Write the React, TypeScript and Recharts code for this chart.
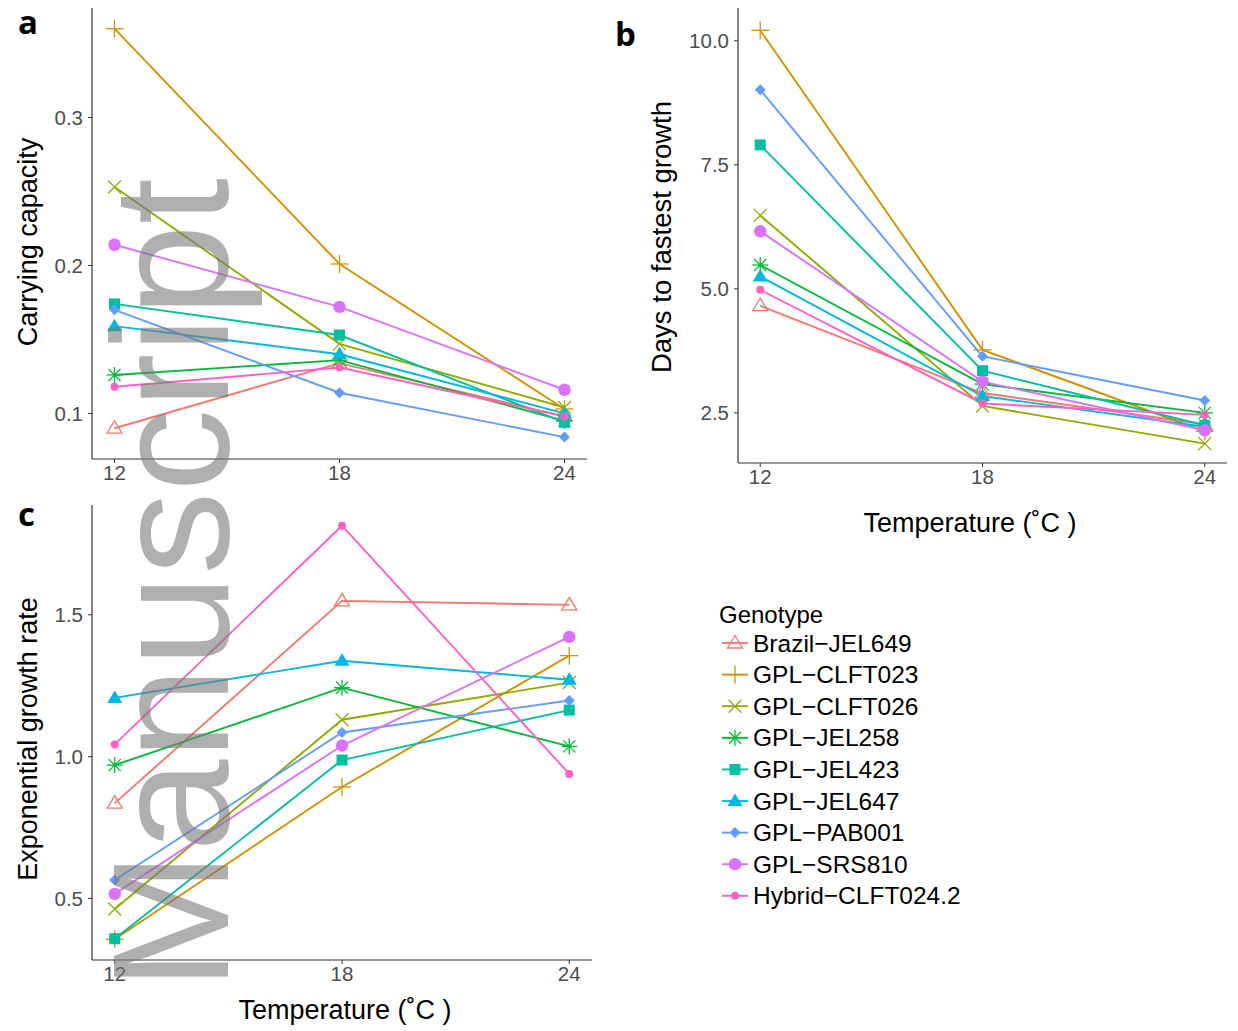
import React from 'react';
import { LineChart, Line, XAxis, YAxis } from 'recharts';

const temperatures = [12, 18, 24];
const genotypes = [
  'Brazil\u2212JEL649',
  'GPL\u2212CLFT023',
  'GPL\u2212CLFT026',
  'GPL\u2212JEL258',
  'GPL\u2212JEL423',
  'GPL\u2212JEL647',
  'GPL\u2212PAB001',
  'GPL\u2212SRS810',
  'Hybrid\u2212CLFT024.2',
];
const colors = ['#F8766D', '#D39200', '#93AA00', '#00BA38', '#00C19F', '#00B9E3', '#619CFF', '#DB72FB', '#FF61C3'];
const shapes = ['openTriangle', 'plus', 'cross', 'asterisk', 'square', 'triangle', 'diamond', 'circle', 'smallCircle'];

// one row per genotype, values at 12, 18, 24 C
const carryingCapacity = [
  [0.09, 0.134, 0.098],
  [0.36, 0.201, 0.103],
  [0.253, 0.147, 0.104],
  [0.126, 0.136, 0.095],
  [0.174, 0.153, 0.094],
  [0.159, 0.14, 0.1],
  [0.17, 0.114, 0.084],
  [0.214, 0.172, 0.116],
  [0.118, 0.131, 0.098],
];
const daysToFastestGrowth = [
  [4.66, 2.9, 2.27],
  [10.21, 3.77, 2.13],
  [6.48, 2.64, 1.88],
  [5.48, 3.08, 2.5],
  [7.9, 3.35, 2.25],
  [5.25, 2.84, 2.22],
  [9.01, 3.64, 2.75],
  [6.16, 3.13, 2.15],
  [4.98, 2.69, 2.46],
];
const exponentialGrowthRate = [
  [0.836, 1.549, 1.535],
  [0.356, 0.893, 1.356],
  [0.463, 1.13, 1.261],
  [0.97, 1.243, 1.036],
  [0.358, 0.988, 1.164],
  [1.207, 1.338, 1.271],
  [0.565, 1.085, 1.198],
  [0.516, 1.039, 1.422],
  [1.043, 1.814, 0.939],
];

const carryingTicks = [0.1, 0.2, 0.3];
const daysTicks = [2.5, 5.0, 7.5, 10.0];
const rateTicks = [0.5, 1.0, 1.5];

const FONT = '"Liberation Sans", Arial, Helvetica, sans-serif';
const AXIS = '#333333';
const TICK_TEXT = '#4D4D4D';

const toRows = (values: number[][]) =>
  temperatures.map((t, ti) => {
    const row: any = { temp: t };
    values.forEach((v, gi) => {
      row[`g${gi}`] = v[ti];
    });
    return row;
  });

const Marker = ({ shape, color, cx, cy }: { shape: string; color: string; cx: number; cy: number }) => {
  if (cx == null || cy == null) return null;
  switch (shape) {
    case 'openTriangle':
      return (
        <polygon
          points={`${cx},${cy - 7.5} ${cx - 7.5},${cy + 5} ${cx + 7.5},${cy + 5}`}
          fill="none"
          stroke={color}
          strokeWidth={1.3}
        />
      );
    case 'plus':
      return (
        <g stroke={color} strokeWidth={1.3}>
          <line x1={cx - 9} y1={cy} x2={cx + 9} y2={cy} />
          <line x1={cx} y1={cy - 9} x2={cx} y2={cy + 9} />
        </g>
      );
    case 'cross':
      return (
        <g stroke={color} strokeWidth={1.3}>
          <line x1={cx - 6.5} y1={cy - 6.5} x2={cx + 6.5} y2={cy + 6.5} />
          <line x1={cx - 6.5} y1={cy + 6.5} x2={cx + 6.5} y2={cy - 6.5} />
        </g>
      );
    case 'asterisk':
      return (
        <g stroke={color} strokeWidth={1.3}>
          <line x1={cx - 8} y1={cy} x2={cx + 8} y2={cy} />
          <line x1={cx} y1={cy - 8} x2={cx} y2={cy + 8} />
          <line x1={cx - 6} y1={cy - 6} x2={cx + 6} y2={cy + 6} />
          <line x1={cx - 6} y1={cy + 6} x2={cx + 6} y2={cy - 6} />
        </g>
      );
    case 'square':
      return <rect x={cx - 5.5} y={cy - 5.5} width={11} height={11} fill={color} />;
    case 'triangle':
      return <polygon points={`${cx},${cy - 7.5} ${cx - 7.5},${cy + 5} ${cx + 7.5},${cy + 5}`} fill={color} />;
    case 'diamond':
      return <polygon points={`${cx},${cy - 5.5} ${cx + 5.5},${cy} ${cx},${cy + 5.5} ${cx - 5.5},${cy}`} fill={color} />;
    case 'circle':
      return <circle cx={cx} cy={cy} r={6.2} fill={color} />;
    default:
      return <circle cx={cx} cy={cy} r={4} fill={color} />;
  }
};

interface PanelProps {
  values: number[][];
  domain: [number, number];
  ticks: number[];
  width: number;
  height: number;
  yAxisWidth: number;
  margin: { top: number; right: number; bottom: number; left: number };
}

const Panel = ({ values, domain, ticks, width, height, yAxisWidth, margin }: PanelProps) => (
  <LineChart width={width} height={height} data={toRows(values)} margin={margin}>
    <XAxis
      dataKey="temp"
      type="number"
      domain={[11.4, 24.6]}
      ticks={temperatures}
      allowDataOverflow
      height={30}
      tickSize={4}
      tickMargin={2}
      axisLine={{ stroke: AXIS, strokeWidth: 1.2 }}
      tickLine={{ stroke: AXIS }}
      tick={{ fill: TICK_TEXT, fontSize: 20.5, fontFamily: FONT }}
    />
    <YAxis
      type="number"
      domain={domain}
      ticks={ticks}
      allowDataOverflow
      width={yAxisWidth}
      tickSize={4}
      tickMargin={5}
      tickFormatter={(v: number) => v.toFixed(1)}
      axisLine={{ stroke: AXIS, strokeWidth: 1.2 }}
      tickLine={{ stroke: AXIS }}
      tick={{ fill: TICK_TEXT, fontSize: 20.5, fontFamily: FONT }}
    />
    {genotypes.map((g, i) => (
      <Line
        key={g}
        dataKey={`g${i}`}
        name={g}
        type="linear"
        stroke={colors[i]}
        strokeWidth={1.9}
        isAnimationActive={false}
        dot={(p: any) => <Marker key={`${g}-${p.index}`} shape={shapes[i]} color={colors[i]} cx={p.cx} cy={p.cy} />}
        activeDot={false}
      />
    ))}
  </LineChart>
);

const Legend = () => (
  <svg width={320} height={330} style={{ position: 'absolute', left: 700, top: 595 }}>
    <text x={19} y={19 + 8.5} fontSize={24} fontFamily={FONT} fill="#000">
      Genotype
    </text>
    {genotypes.map((g, i) => {
      const cy = 48 + i * 31.6;
      return (
        <g key={g}>
          <line x1={22} x2={48} y1={cy} y2={cy} stroke={colors[i]} strokeWidth={1.9} />
          <Marker shape={shapes[i]} color={colors[i]} cx={35} cy={cy} />
          <text x={53} y={cy + 8.5} fontSize={24.5} fontFamily={FONT} fill="#000">
            {g}
          </text>
        </g>
      );
    })}
  </svg>
);

export default function App() {
  return (
    <div style={{ position: 'absolute', left: 0, top: 0, width: 1238, height: 1031, background: '#fff' }}>
      <div style={{ position: 'absolute', left: 0, top: 0 }}>
        <Panel
          values={carryingCapacity}
          domain={[0.0692, 0.374]}
          ticks={carryingTicks}
          width={600}
          height={500}
          yAxisWidth={92}
          margin={{ top: 8, right: 13, bottom: 11, left: 0 }}
        />
      </div>
      <div style={{ position: 'absolute', left: 600, top: 0 }}>
        <Panel
          values={daysToFastestGrowth}
          domain={[1.49, 10.66]}
          ticks={daysTicks}
          width={638}
          height={500}
          yAxisWidth={138}
          margin={{ top: 8, right: 11, bottom: 7, left: 0 }}
        />
      </div>
      <div style={{ position: 'absolute', left: 0, top: 490 }}>
        <Panel
          values={exponentialGrowthRate}
          domain={[0.283, 1.887]}
          ticks={rateTicks}
          width={610}
          height={520}
          yAxisWidth={92}
          margin={{ top: 15, right: 18, bottom: 20, left: 0 }}
        />
      </div>
      <Legend />
      <svg
        width={1238}
        height={1031}
        style={{ position: 'absolute', left: 0, top: 0, pointerEvents: 'none' }}
        fontFamily={FONT}
      >
        <text x={18} y={34} fontSize={33} fontWeight="bold" fontFamily='"Open Sans", sans-serif'>a</text>
        <text x={615} y={46} fontSize={33} fontWeight="bold" fontFamily='"Open Sans", sans-serif'>b</text>
        <text x={18} y={526} fontSize={33} fontWeight="bold" fontFamily='"Open Sans", sans-serif'>c</text>
        <text transform="translate(37,242) rotate(-90)" textAnchor="middle" fontSize={27}>Carrying capacity</text>
        <text transform="translate(671,237) rotate(-90)" textAnchor="middle" fontSize={27.5}>Days to fastest growth</text>
        <text transform="translate(37,739) rotate(-90)" textAnchor="middle" fontSize={27}>Exponential growth rate</text>
        <text x={970} y={532} textAnchor="middle" fontSize={27}>Temperature (˚C )</text>
        <text x={345} y={1019} textAnchor="middle" fontSize={27}>Temperature (˚C )</text>
        <text
          transform="translate(228,990) rotate(-90)"
          fontSize={166}
          fill="#7a7a7a"
          fillOpacity={0.6}
        >
          Manuscript
        </text>
      </svg>
    </div>
  );
}
